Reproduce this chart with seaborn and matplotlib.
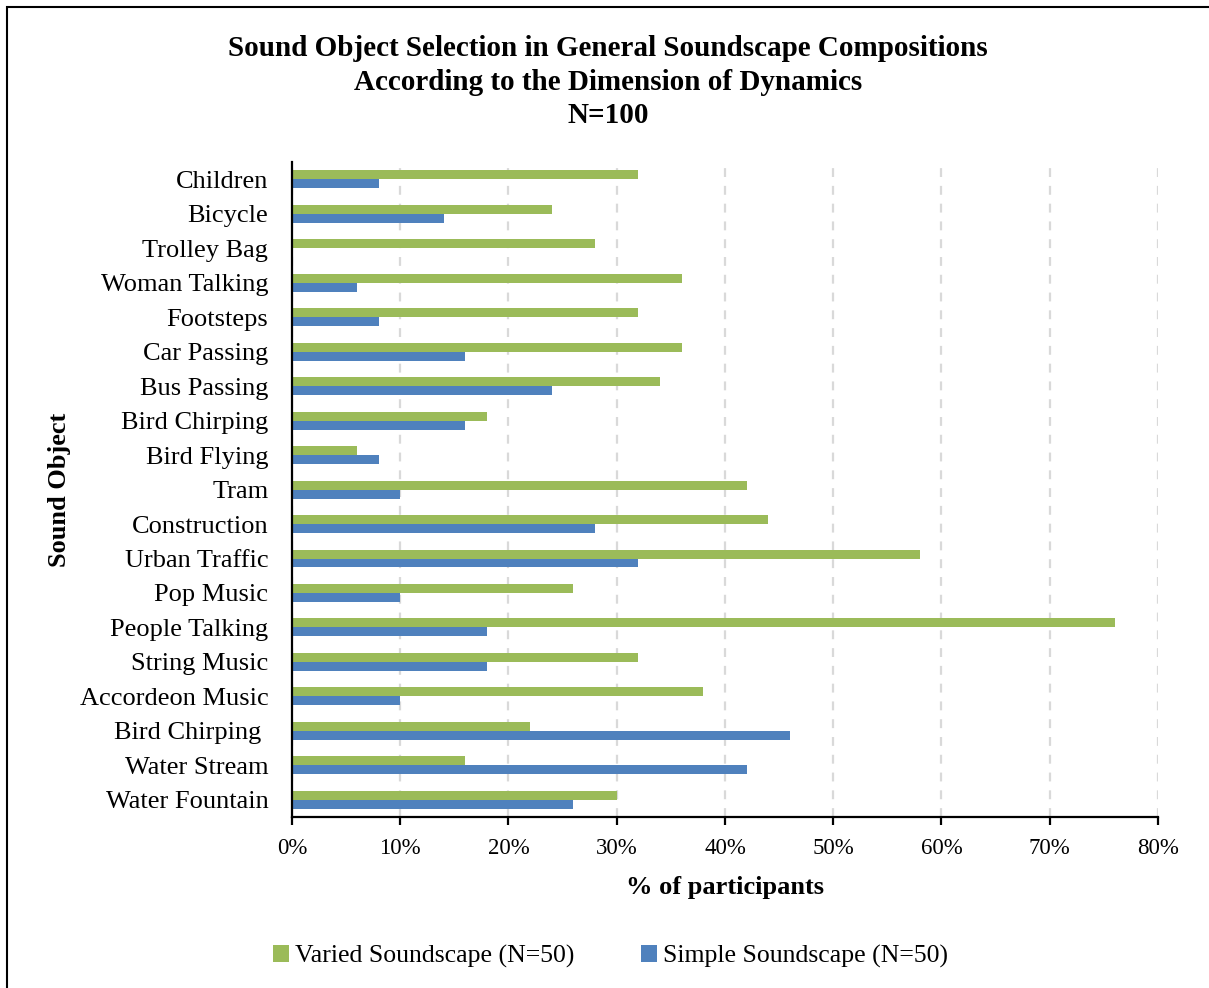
import matplotlib
matplotlib.use("Agg")
import matplotlib.pyplot as plt
import matplotlib.patches as mpatches
import matplotlib.ticker as mticker
import pandas as pd
import seaborn as sns

# Sound objects, listed top to bottom
sound_objects = [
    "Children", "Bicycle", "Trolley Bag", "Woman Talking", "Footsteps",
    "Car Passing", "Bus Passing", "Bird Chirping", "Bird Flying", "Tram",
    "Construction", "Urban Traffic", "Pop Music", "People Talking",
    "String Music", "Accordeon Music", "Bird Chirping ", "Water Stream",
    "Water Fountain",
]
# Share of participants (%) selecting each sound object
varied_pct = [32, 24, 28, 36, 32, 36, 34, 18, 6, 42, 44, 58, 26, 76, 32, 38, 22, 16, 30]
simple_pct = [8, 14, 0, 6, 8, 16, 24, 16, 8, 10, 28, 32, 10, 18, 18, 10, 46, 42, 26]

series_names = ["Varied Soundscape (N=50)", "Simple Soundscape (N=50)"]
series_colors = ["#9BBB59", "#4F81BD"]
x_ticks = [0, 10, 20, 30, 40, 50, 60, 70, 80]

df = pd.concat([
    pd.DataFrame({"object": sound_objects, "pct": varied_pct, "group": series_names[0]}),
    pd.DataFrame({"object": sound_objects, "pct": simple_pct, "group": series_names[1]}),
])

sns.set_theme(style="white")
plt.rcParams["font.family"] = ["Liberation Serif", "DejaVu Serif"]
plt.rcParams["text.color"] = "black"
plt.rcParams["axes.labelcolor"] = "black"

fig = plt.figure(figsize=(12.09, 9.88), dpi=100)
ax = fig.add_axes([0.2415, 0.173, 0.7163, 0.663])

sns.barplot(
    data=df, y="object", x="pct", hue="group", orient="h",
    order=sound_objects, hue_order=series_names, palette=series_colors,
    width=0.52, errorbar=None, saturation=1, linewidth=0, ax=ax, legend=True,
)

ax.set_xlim(0, 80)
ax.set_ylim(len(sound_objects) - 0.5, -0.5)
ax.set_xticks(x_ticks)
ax.xaxis.set_major_formatter(mticker.FuncFormatter(lambda v, _: f"{v:.0f}%"))
ax.grid(axis="x", color="#d9d9d9", linestyle=(0, (4, 4)), linewidth=1.6)
ax.grid(axis="y", visible=False)
ax.set_axisbelow(True)

for side in ["top", "right"]:
    ax.spines[side].set_visible(False)
for side in ["left", "bottom"]:
    ax.spines[side].set_color("black")
    ax.spines[side].set_linewidth(1.6)

ax.tick_params(axis="x", length=6, width=1.6, color="black", direction="out",
               bottom=True, labelsize=16.5, pad=9, labelcolor="black")
ax.tick_params(axis="y", length=0, labelsize=19, pad=17, labelcolor="black")

ax.set_xlabel("% of participants", fontsize=19, fontweight="bold", labelpad=12)
ax.set_ylabel("Sound Object", fontsize=19, fontweight="bold", labelpad=6)

fig.text(0.503, 0.965,
         "Sound Object Selection in General Soundscape Compositions\n"
         "According to the Dimension of Dynamics\nN=100",
         ha="center", va="top", fontsize=21, fontweight="bold", linespacing=1.33)

handles, labels = ax.get_legend_handles_labels()
ax.get_legend().remove()
fig.legend(handles, labels, loc="center", bbox_to_anchor=(0.505, 0.032), ncol=2,
           frameon=False, fontsize=18.5, handlelength=0.6, handleheight=0.6,
           handletextpad=0.25, columnspacing=2.6)

# Outer frame of the chart area
fig.patches.append(mpatches.Rectangle((0.006, -0.01), 1.1, 1.003, transform=fig.transFigure,
                                      fill=False, edgecolor="black", linewidth=1.5))

fig.savefig("out.png", dpi=100)
